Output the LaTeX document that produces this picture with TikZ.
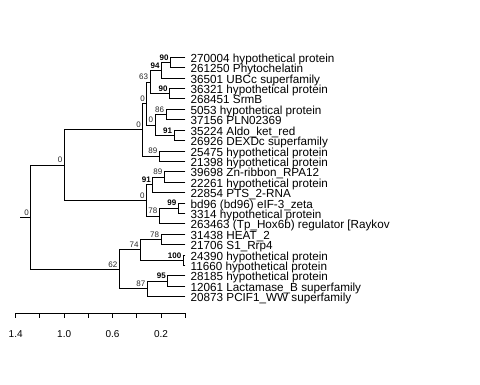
\documentclass[tikz,border=0pt]{standalone}
\usepackage{fontspec}
\setmainfont{Liberation Sans}
\begin{document}
\begin{tikzpicture}[x=1pt,y=-1pt,
  edge/.style={line width=0.9pt,black,line cap=rect},
  tip/.style={anchor=base west,inner sep=0pt,font=\fontsize{11.7}{12}\selectfont},
  sup/.style={anchor=base east,inner sep=0pt,font=\fontsize{8}{9}\selectfont,text=black!85},
  supb/.style={sup,font=\fontsize{8}{9}\selectfont\bfseries,text=black},
  axlab/.style={anchor=center,inner sep=0pt,font=\fontsize{10}{11}\selectfont}]
\useasboundingbox (0,0) rectangle (480,384);
% tips
\foreach \i/\y in {0/57.3,1/67.7,2/78.1,3/88.5,4/98.9,5/109.4,6/119.8,7/130.2,8/140.6,9/151.0,10/161.4,11/171.8,12/182.2,13/192.6,14/203.0,15/213.5,16/223.9,17/234.3,18/244.7,19/255.1,20/265.5,21/275.9,22/286.3,23/296.7}
  \coordinate (t\i) at (185,\y);
% internal nodes
\coordinate (n90a) at (170.5,62.5);
\coordinate (n94) at (161.5,70.3);
\coordinate (n90b) at (169.5,93.7);
\coordinate (n63) at (150,82.0);
\coordinate (n86) at (166,114.6);
\coordinate (n91a) at (174,135.4);
\coordinate (nC) at (155,125.0);
\coordinate (nB) at (146.7,103.5);
\coordinate (n89a) at (159.3,156.2);
\coordinate (nA) at (142.7,129.9);
\coordinate (n89b) at (164.3,177.0);
\coordinate (n91b) at (152.7,184.8);
\coordinate (n99) at (178.3,208.25);
\coordinate (n78a) at (159.3,216.1);
\coordinate (nD) at (146.5,200.4);
\coordinate (nE) at (64.3,165.1);
\coordinate (n78b) at (161,239.5);
\coordinate (n100) at (183.3,260.3);
\coordinate (n74) at (140.5,249.9);
\coordinate (n95) at (167.7,281.1);
\coordinate (n87) at (147.3,288.9);
\coordinate (n62) at (119.3,269.4);
\coordinate (root) at (30.7,217.3);
\coordinate (stub) at (20.7,217.3);
% edges
\draw[edge] (stub) -- (root);
\foreach \p/\a/\b in {n90a/t0/t1, n94/n90a/t2, n90b/t3/t4, n63/n94/n90b, n86/t5/t6, n91a/t7/t8,
  nC/n86/n91a, nB/n63/nC, n89a/t9/t10, nA/nB/n89a, n89b/t11/t12, n91b/n89b/t13, n99/t14/t15,
  n78a/n99/t16, nD/n91b/n78a, nE/nA/nD, n78b/t17/t18, n100/t19/t20, n74/n78b/n100,
  n95/t21/t22, n87/n95/t23, n62/n74/n87, root/nE/n62}
  {\draw[edge] (\p) |- (\a); \draw[edge] (\p) |- (\b);}
% support values
\foreach \n/\v/\s in {n90a/90/supb, n94/94/supb, n90b/90/supb, n63/63/sup, n86/86/sup, n91a/91/supb,
  nC/0/sup, nB/0/sup, n89a/89/sup, nA/0/sup, n89b/89/sup, n91b/91/supb, n99/99/supb, n78a/78/sup,
  nD/0/sup, nE/0/sup, n78b/78/sup, n100/100/supb, n74/74/sup, n95/95/supb, n87/87/sup, n62/62/sup, root/0/sup}
  \node[\s] (s\n) at ([shift={(-1.8,-2.3)}]\n) {\v};
% tip labels
\foreach \i/\t in {0/270004 hypothetical protein, 1/261250 Phytochelatin, 2/36501 UBCc superfamily,
  3/36321 hypothetical protein, 4/268451 SrmB, 5/5053 hypothetical protein, 6/37156 PLN02369,
  7/35224 Aldo\_ket\_red, 8/26926 DEXDc superfamily, 9/25475 hypothetical protein,
  10/21398 hypothetical protein, 11/39698 Zn-ribbon\_RPA12, 12/22261 hypothetical protein,
  13/22854 PTS\_2-RNA, 14/bd96 (bd96) eIF-3\_zeta, 15/3314 hypothetical protein,
  17/31438 HEAT\_2, 18/21706 S1\_Rrp4, 19/24390 hypothetical protein,
  20/11660 hypothetical protein, 21/28185 hypothetical protein, 22/12061 Lactamase\_B superfamily,
  23/20873 PCIF1\_WW superfamily}
  \node[tip] (l\i) at ([shift={(5.5,5)}]t\i) {\t};
\begin{scope}
\clip (0,0) rectangle (394,384);
\node[tip] (l16) at ([shift={(5.5,5)}]t16) {263463 (Tp\_Hox6b) regulator [Raykov};
\end{scope}
% axis
\foreach \k in {0,...,7} \coordinate (ax\k) at ({185.3-24.23*\k},313.3);
\draw[edge,line cap=butt] (ax0) -- (ax7);
\foreach \k in {0,...,7} \draw[edge,line cap=butt] (ax\k) -- ++(0,5);
\foreach \k/\v in {1/0.2,3/0.6,5/1.0,7/1.4}
  \node[axlab] (al\k) at ([yshift=-21]ax\k) {\v};
\end{tikzpicture}
\end{document}
